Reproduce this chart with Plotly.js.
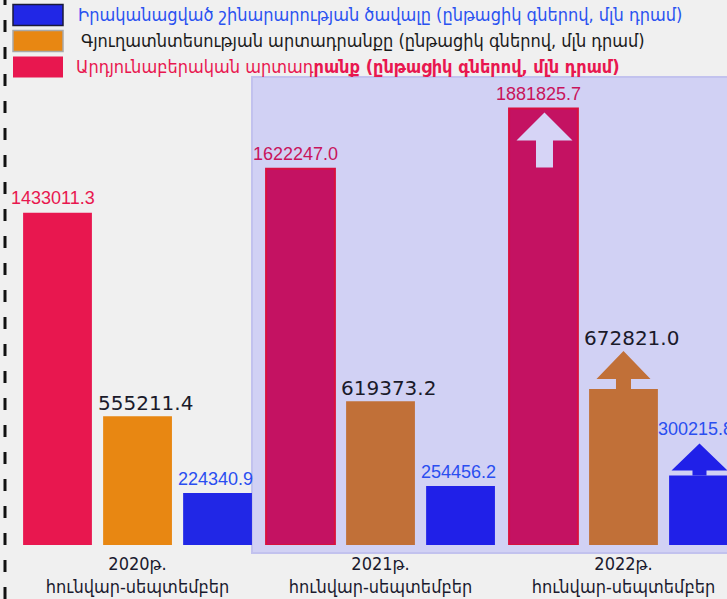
<!DOCTYPE html>
<html>
<head>
<meta charset="utf-8">
<script src="https://cdn.plot.ly/plotly-3.0.1.min.js"></script>
<style>html,body{margin:0;padding:0;}#chart{width:727px;height:599px;}</style>
</head>
<body>
<div id="chart"></div>
<script>
const categories = ['2020թ.<br>հունվար-սեպտեմբեր', '2021թ.<br>հունվար-սեպտեմբեր', '2022թ.<br>հունվար-սեպտեմբեր'];
const industry = [1433011.3, 1622247.0, 1881825.7];
const agriculture = [555211.4, 619373.2, 672821.0];
const construction = [224340.9, 254456.2, 300215.8];
const seriesNames = [
  'Իրականացված շինարարության ծավալը (ընթացիկ գներով, մլն դրամ)',
  'Գյուղատնտեսության արտադրանքը (ընթացիկ գներով, մլն դրամ)',
  'Արդյունաբերական արտադրանք (ընթացիկ գներով, մլն դրամ)'
];

const W = 727, H = 599, PB = 545; // plot bottom in px (margin b = 54, t = 0)
const px = x => x / W;
const py = y => (PB - y) / PB;

const traces = [
  {type:'bar', name: seriesNames[2], x: categories, y: industry,
   marker:{color:['#e8174f','#c41262','#c41262'], line:{color:['rgba(0,0,0,0)','#d8103f','#d8103f'], width:[0,2,2]}},
   hoverinfo:'none', showlegend:false},
  {type:'bar', name: seriesNames[1], x: categories, y: agriculture,
   marker:{color:['#e88712','#c17038','#c17038']}, hoverinfo:'none', showlegend:false},
  {type:'bar', name: seriesNames[0], x: categories, y: construction,
   marker:{color:['#2127e6','#2020e8','#2020e8']}, hoverinfo:'none', showlegend:false}
];

const shapes = [];
const annotations = [];

// lavender panel
shapes.push({type:'rect', xref:'paper', yref:'paper', x0:px(252), x1:1.01, y0:py(553), y1:py(77),
  fillcolor:'#d1d1f4', line:{color:'#c2c2ee', width:2}, layer:'below'});
// dashed vertical line
shapes.push({type:'line', xref:'paper', yref:'paper', x0:px(5), x1:px(5), y0:py(599), y1:py(0),
  line:{color:'#111', width:3, dash:'12px,15px'}});

// legend (manual)
const legColors = ['#2127e6','#e88712','#e8174f'];
const legBorders = ['#1a1a3a','#a8a8a8','rgba(0,0,0,0)'];
const legTextColors = ['#2a52f0','#1a1a1a','#e8174f'];
const legY = [15, 41, 67];
const legX = [76, 79, 74];
const legText = seriesNames.slice();
const cut = legText[2].indexOf('րանք');
legText[2] = legText[2].slice(0, cut) + '<b>' + legText[2].slice(cut) + '</b>';
for (let i = 0; i < 3; i++) {
  shapes.push({type:'rect', xref:'paper', yref:'paper', x0:px(13), x1:px(63), y0:py(legY[i]+10.5), y1:py(legY[i]-10.5),
    fillcolor:legColors[i], line:{color:legBorders[i], width:1.5}});
  annotations.push({xref:'paper', yref:'paper', x:px(legX[i]), y:py(legY[i]), xanchor:'left', yanchor:'middle',
    text:legText[i], showarrow:false, font:{family:'DejaVu Sans Condensed, DejaVu Sans', size:18, color:legTextColors[i]}});
}

// value labels
const fmt = v => v.toFixed(1);
const redCol = ['#e8174f','#c8145c','#c8145c'];
for (let i = 0; i < 3; i++) {
  annotations.push({x:categories[i], y:industry[i], xshift:-85, yshift:3, yanchor:'bottom', showarrow:false,
    text:fmt(industry[i]), font:{family:'Liberation Sans, Arial', size:18, color:redCol[i]}});
  annotations.push({x:categories[i], y:agriculture[i], xshift:8, yshift:(i===2?37:-1), yanchor:'bottom', showarrow:false,
    text:fmt(agriculture[i]), font:{family:'DejaVu Sans', size:20, color:'#1a1a2a'}});
  annotations.push({x:categories[i], y:construction[i], xshift:(i===2?72:78), yshift:(i===2?34:2), yanchor:'bottom', showarrow:false,
    text:fmt(construction[i]), font:{family:'Liberation Sans, Arial', size:18, color:'#2a4ef0'}});
}

// arrows (decorations anchored to bar tops)
shapes.push({type:'path', xref:'x', yref:'y', xsizemode:'pixel', ysizemode:'pixel',
  xanchor:categories[2], yanchor:industry[2],
  path:'M -87.5,-59 L -87.5,-32 L -107,-32 L -79,-4 L -51,-32 L -70.5,-32 L -70.5,-59 Z',
  fillcolor:'#d6d4f6', line:{width:0}});
shapes.push({type:'path', xref:'x', yref:'y', xsizemode:'pixel', ysizemode:'pixel',
  xanchor:categories[2], yanchor:agriculture[2],
  path:'M -7.5,0 L -7.5,10 L -27,10 L 0,38 L 27,10 L 7.5,10 L 7.5,0 Z',
  fillcolor:'#c17038', line:{width:0}});
shapes.push({type:'path', xref:'x', yref:'y', xsizemode:'pixel', ysizemode:'pixel',
  xanchor:categories[2], yanchor:construction[2],
  path:'M 69,0 L 69,5 L 48,5 L 76,32 L 104,5 L 83,5 L 83,0 Z',
  fillcolor:'#2020e8', line:{width:0}});

const layout = {
  width: W, height: H,
  margin:{l:0, r:0, t:0, b:54, pad:0},
  paper_bgcolor:'#f0f0f0', plot_bgcolor:'rgba(0,0,0,0)',
  barmode:'group', bargap:0.012, bargroupgap:0.14,
  showlegend:false,
  xaxis:{type:'category', range:[-0.566, 2.426], showgrid:false, zeroline:false, showline:false, ticks:'',
    tickfont:{family:'DejaVu Sans Condensed, DejaVu Sans', size:18, color:'#1a1a2e'}, ticklabelstandoff:6, fixedrange:true},
  yaxis:{range:[0, 2350000], visible:false, showgrid:false, zeroline:false, fixedrange:true},
  shapes: shapes,
  annotations: annotations
};

Plotly.newPlot('chart', traces, layout, {displayModeBar:false, staticPlot:true});
</script>
</body>
</html>
